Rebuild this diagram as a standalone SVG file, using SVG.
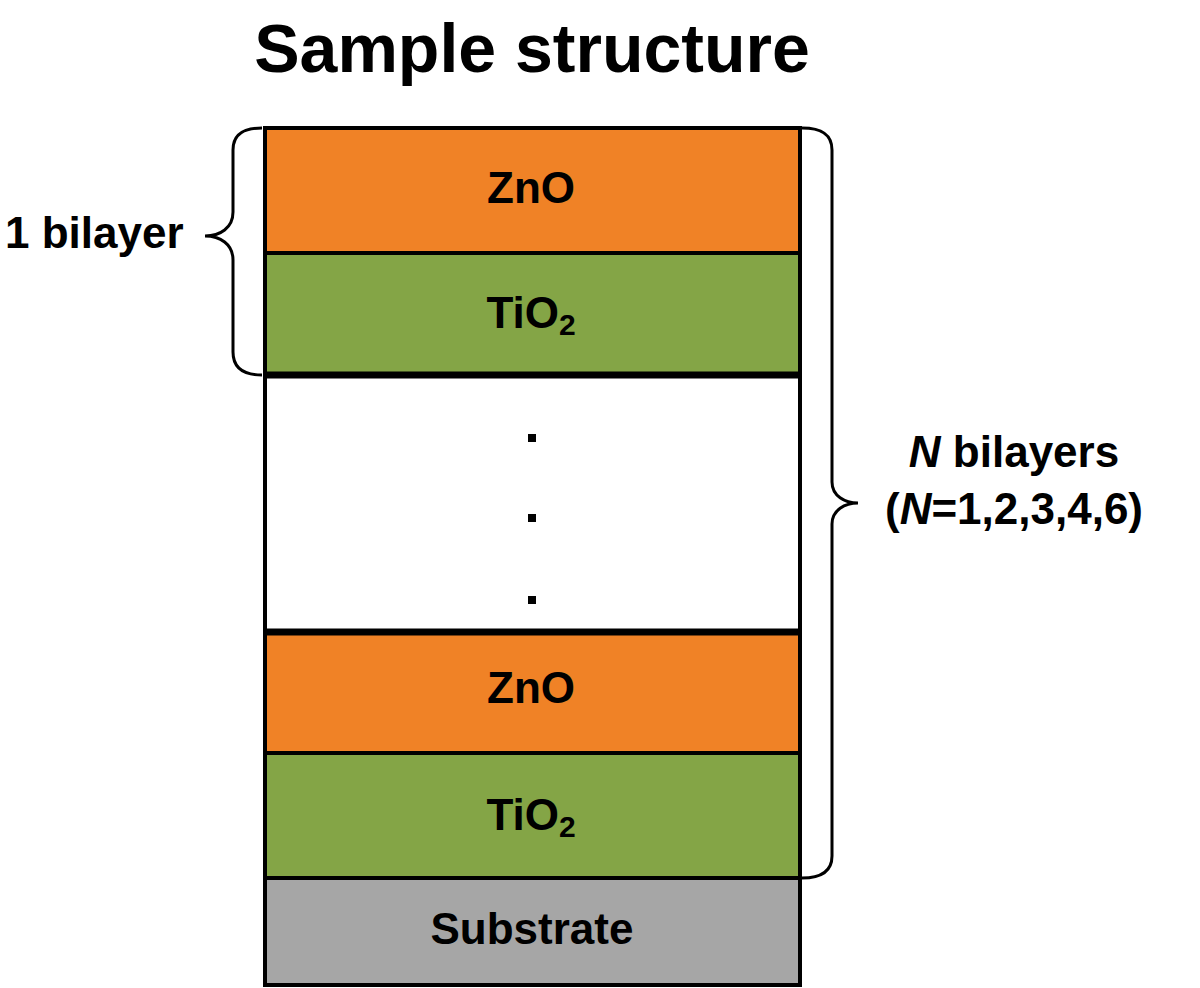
<svg xmlns="http://www.w3.org/2000/svg" width="1200" height="988" viewBox="0 0 1200 988">
<style>
text{font-family:"Liberation Sans",Arial,sans-serif;font-weight:bold;fill:#000}
.lay{stroke:#000;stroke-width:4}
.zno{fill:#F08226}
.tio{fill:#84A546}
.sub{fill:#A6A6A6}
.lt{font-size:44px;text-anchor:middle}
.brace{fill:none;stroke:#000;stroke-width:3}
</style>
<rect width="1200" height="988" fill="#fff"/>
<text x="532" y="72" font-size="68" text-anchor="middle">Sample structure</text>
<g id="zno1"><rect class="lay zno" x="265" y="128" width="535" height="125"/><text class="lt" x="531" y="203">ZnO</text></g>
<g id="tio1"><rect class="lay tio" x="265" y="253" width="535" height="122"/><text class="lt" x="531" y="328">TiO<tspan font-size="30" dy="7">2</tspan></text></g>
<g id="gap"><rect class="lay" fill="#fff" x="265" y="375" width="535" height="257"/>
<rect x="528" y="434" width="8" height="8"/><rect x="528" y="514" width="8" height="8"/><rect x="528" y="596" width="8" height="8"/></g>
<g id="zno2"><rect class="lay zno" x="265" y="632" width="535" height="121"/><text class="lt" x="531" y="703">ZnO</text></g>
<g id="tio2"><rect class="lay tio" x="265" y="753" width="535" height="125"/><text class="lt" x="531" y="830">TiO<tspan font-size="30" dy="7">2</tspan></text></g>
<g id="substrate"><rect class="lay sub" x="265" y="878" width="535" height="107"/><text class="lt" x="532" y="944">Substrate</text></g>
<line x1="265" y1="375" x2="800" y2="375" stroke="#000" stroke-width="7"/>
<line x1="265" y1="632" x2="800" y2="632" stroke="#000" stroke-width="7"/>
<g id="connectors">
<path class="brace" d="M262,128 C245,128 233,133 233,150 L233,212 C233,228 220,236 205,236 C220,236 233,244 233,260 L233,352 C233,369 245,375 262,375"/>
<path class="brace" d="M802,128 C820,128 832,133 832,150 L832,482 C832,496 845,503 858,503 C845,503 832,510 832,524 L832,856 C832,872 820,878 802,878"/>
</g>
<g id="label-1bilayer"><text x="5" y="248" font-size="44">1 bilayer</text></g>
<g id="label-nbilayers">
<text x="1014" y="467" font-size="44" text-anchor="middle"><tspan font-style="italic">N</tspan> bilayers</text>
<text x="1014" y="524" font-size="44" text-anchor="middle">(<tspan font-style="italic">N</tspan>=1,2,3,4,6)</text>
</g>
</svg>
